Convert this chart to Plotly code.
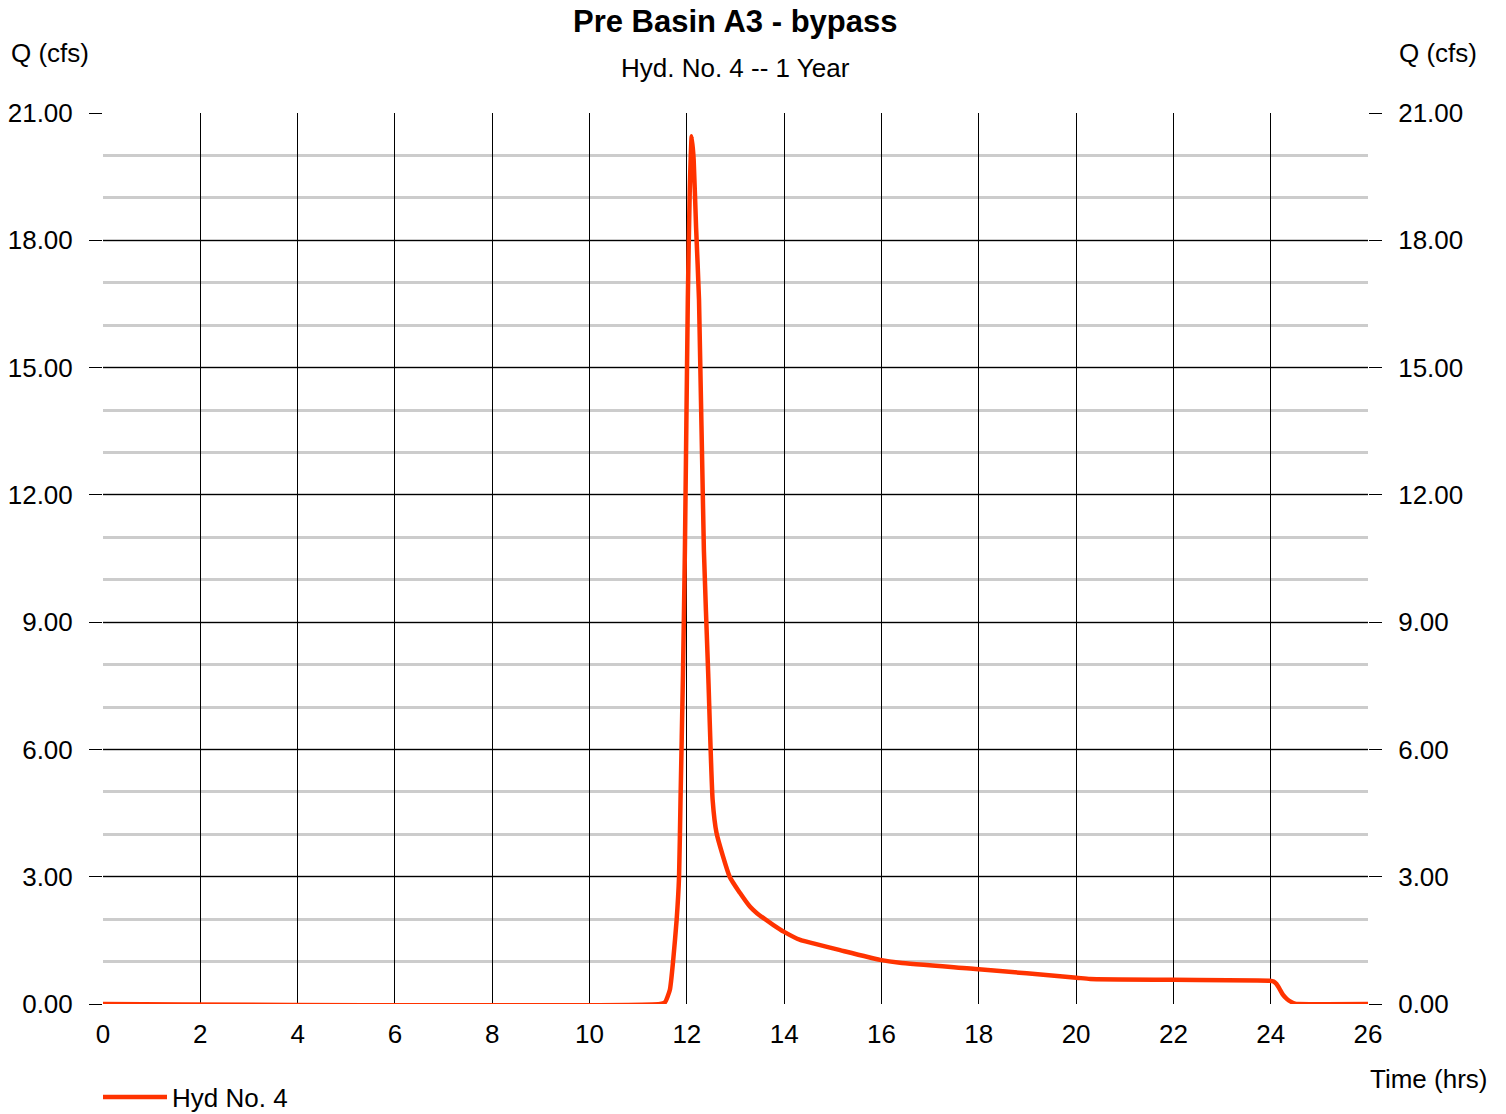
import plotly.graph_objects as go

# Hydrograph ordinates: time (hrs) and discharge Q (cfs)
time_hrs = [0.0, 11.45, 11.55, 11.65, 11.72, 11.79, 11.84, 11.87, 11.92, 11.96,
            12.02, 12.06, 12.10, 12.14, 12.19, 12.25, 12.35, 12.44, 12.53, 12.61,
            12.88, 13.09, 13.30, 13.44, 13.78, 14.00, 14.33, 14.60, 15.15, 15.97,
            16.38, 18.00, 20.01, 20.29, 22.00, 23.98, 24.06, 24.12, 24.19, 24.25,
            24.33, 24.42, 24.50, 24.56, 26.0]
flow_cfs = [0.0, 0.0, 0.04, 0.33, 1.04, 1.98, 3.00, 4.81, 7.75, 10.70,
            16.60, 19.20, 20.45, 19.90, 18.30, 16.60, 10.70, 7.75, 4.81, 4.03,
            3.00, 2.62, 2.29, 2.14, 1.86, 1.70, 1.51, 1.43, 1.27, 1.04,
            0.97, 0.82, 0.62, 0.59, 0.57, 0.55, 0.53, 0.47, 0.34, 0.22,
            0.12, 0.05, 0.01, 0.0, 0.0]

x_ticks = list(range(0, 27, 2))
y_ticks = [0, 3, 6, 9, 12, 15, 18, 21]

title_text = "<b>Pre Basin A3 - bypass</b>"
subtitle_text = "Hyd. No. 4 -- 1 Year"
y_title = "Q (cfs)"
x_title = "Time (hrs)"
series_name = "Hyd No. 4"

W, H = 1506, 1114
ML, MR, MT, MB = 103, 138, 113, 110
PW, PH = W - ML - MR, H - MT - MB
FONT = "Liberation Sans, Arial, sans-serif"
FS = 26
LINE_COLOR = "#ff3300"


def px(x):
    return (x - ML) / PW


def py(y):
    return (H - MB - y) / PH


fig = go.Figure()
fig.add_trace(go.Scatter(
    x=time_hrs, y=flow_cfs, mode="lines", name=series_name,
    line=dict(color=LINE_COLOR, width=4.5, shape="spline", smoothing=0.5),
    hoverinfo="x+y",
))
# Invisible copy so the right-hand axis is laid out
fig.add_trace(go.Scatter(
    x=time_hrs, y=flow_cfs, mode="lines", yaxis="y2", showlegend=False,
    line=dict(color="rgba(0,0,0,0)", width=0), hoverinfo="skip",
))

yaxis_common = dict(
    range=[0, 21], tickvals=y_ticks, tickformat=".2f",
    ticks="outside", ticklen=13, tickwidth=1, tickcolor="#000000",
    ticklabelstandoff=11, automargin=False,
    tickfont=dict(family=FONT, size=FS, color="#000000"),
    zeroline=False, showline=False, fixedrange=True,
)

fig.update_layout(
    template="none",
    width=W, height=H,
    margin=dict(l=ML, r=MR, t=MT, b=MB, pad=0, autoexpand=False),
    paper_bgcolor="#ffffff", plot_bgcolor="#ffffff",
    font=dict(family=FONT, size=FS, color="#000000"),
    xaxis=dict(
        range=[0, 26], tickvals=x_ticks, ticks="",
        ticklabelstandoff=12, automargin=False,
        tickfont=dict(family=FONT, size=FS, color="#000000"),
        showgrid=True, gridcolor="#000000", gridwidth=1.2,
        zeroline=False, showline=False, fixedrange=True,
    ),
    yaxis=dict(
        side="left",
        showgrid=True, gridcolor="#000000", gridwidth=1.3,
        minor=dict(dtick=1, showgrid=True, gridcolor="#cccccc", gridwidth=2.5, ticks=""),
        **yaxis_common,
    ),
    yaxis2=dict(
        side="right", overlaying="y", showgrid=False,
        **yaxis_common,
    ),
    showlegend=True,
    legend=dict(
        x=px(98), y=py(1097), xanchor="left", yanchor="middle",
        orientation="h", itemwidth=64,
        font=dict(family=FONT, size=FS, color="#000000"),
        bgcolor="rgba(0,0,0,0)", borderwidth=0,
    ),
    annotations=[
        dict(text=title_text, x=0.5, y=py(22), xref="paper", yref="paper",
             xanchor="center", yanchor="middle", showarrow=False,
             font=dict(family=FONT, size=31, color="#000000")),
        dict(text=subtitle_text, x=0.5, y=py(68), xref="paper", yref="paper",
             xanchor="center", yanchor="middle", showarrow=False,
             font=dict(family=FONT, size=FS, color="#000000")),
        dict(text=y_title, x=px(50), y=py(53), xref="paper", yref="paper",
             xanchor="center", yanchor="middle", showarrow=False),
        dict(text=y_title, x=px(1438), y=py(53), xref="paper", yref="paper",
             xanchor="center", yanchor="middle", showarrow=False),
        dict(text=x_title, x=px(1428), y=py(1079), xref="paper", yref="paper",
             xanchor="center", yanchor="middle", showarrow=False),
    ],
)

fig.write_html("out.html")
